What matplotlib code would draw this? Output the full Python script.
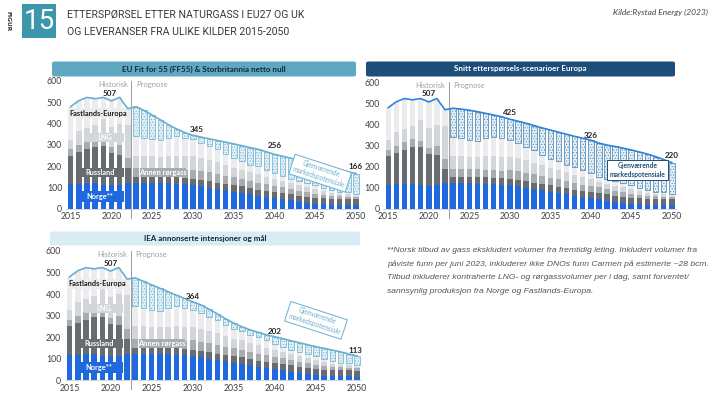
import numpy as np
import matplotlib
matplotlib.use("Agg")
import matplotlib.pyplot as plt
from matplotlib import font_manager
from matplotlib.patches import FancyBboxPatch, Rectangle

# Data, bcm per year
years_hist = list(range(2015, 2023))
years_fc = list(range(2023, 2051))

norge = [116, 117, 120, 120, 114, 111, 113, 122,
         122, 122, 121, 120, 120, 118, 116, 112, 108, 100, 93, 88, 82, 76, 70, 62,
         57, 52, 47, 40, 33, 28, 24, 22, 20, 19, 18, 17]
russland = [134, 148, 160, 172, 180, 151, 142, 68,
            30, 30, 31, 31, 30, 30, 30, 30, 30, 31, 31, 30, 30, 30, 30, 29,
            29, 29, 29, 29, 29, 29, 28, 28, 28, 28, 28, 28]
annen_rorgass = [30, 35, 38, 38, 30, 28, 45, 48,
                 38, 38, 38, 37, 37, 37, 36, 43, 42, 41, 40, 38, 36, 35, 33, 32,
                 30, 28, 26, 25, 24, 22, 20, 17, 15, 13, 12, 10]
lng = [45, 65, 60, 62, 98, 95, 100, 157,
       60, 60, 58, 58, 62, 65, 65, 62, 60, 58, 55, 50, 45, 44, 40, 40,
       36, 32, 28, 26, 25, 23, 22, 16, 14, 12, 11, 8]
fastlands = [155, 143, 145, 125, 101, 122, 123, 75,
             93, 85, 79, 76, 86, 93, 88, 80, 71, 65, 61, 50, 44, 42, 35, 37,
             33, 28, 23, 22, 22, 20, 20, 15, 13, 10, 10, 7]

demand_hist = [480, 508, 523, 517, 523, 507, 523, 470]
demand_ff55 = [480, 462, 440, 418, 395, 375, 358, 345, 337, 329, 321, 313, 305, 297,
               288, 280, 268, 256, 247, 238, 229, 220, 211, 202, 193, 184, 175, 166]
demand_snitt = [477, 473, 468, 461, 453, 445, 437, 425, 416, 406, 395, 384, 374, 364,
                354, 344, 335, 326, 312, 303, 296, 288, 280, 270, 260, 248, 234, 220]
demand_iea = [475, 459, 443, 427, 411, 395, 380, 364, 350, 330, 308, 285, 265, 248,
              234, 222, 211, 202, 193, 183, 174, 165, 156, 148, 140, 132, 122, 113]

layers = [norge, russland, annen_rorgass, lng, fastlands]
layer_colors = ["#1f68dd", "#686b70", "#a8abb0", "#d2d5d9", "#ececee"]

W, H = 713, 408
fig = plt.figure(figsize=(W / 100, H / 100), dpi=100)

installed = {f.name for f in font_manager.fontManager.ttflist}
narrow = "Liberation Sans Narrow" if "Liberation Sans Narrow" in installed else "Roboto"
plt.rcParams["font.family"] = ["Lato", "DejaVu Sans"]
plt.rcParams["hatch.linewidth"] = 0.5


def add_axes_px(left, right, bottom, top):
    return fig.add_axes([left / W, 1 - bottom / H, (right - left) / W, (bottom - top) / H])


def title_bar(x0, x1, y0, y1, text, face, color):
    box = FancyBboxPatch((x0 / W, 1 - y1 / H), (x1 - x0) / W, (y1 - y0) / H,
                         boxstyle="round,pad=0,rounding_size=0.004",
                         transform=fig.transFigure, facecolor=face, edgecolor="none")
    fig.patches.append(box)
    fig.text((x0 + x1) / 2 / W, 1 - (y0 + y1) / 2 / H, text, ha="center", va="center",
             fontsize=5.8, fontweight="bold", color=color)


def label_box(ax, x0, x1, y0, y1, text, face, color):
    ax.add_patch(Rectangle((x0, y0), x1 - x0, y1 - y0, facecolor=face, edgecolor="none", zorder=4))
    ax.text((x0 + x1) / 2, (y0 + y1) / 2, text, ha="center", va="center", fontsize=5.3,
            fontweight="bold", color=color, zorder=5)


def draw_panel(ax, demand_fc, line_color, hatch_edge, value_labels, box_pos, box_rot,
               box_color, show_labels):
    years = np.array(years_hist + years_fc)
    n_hist = len(years_hist)
    bottom = np.zeros(len(years))
    for vals, col in zip(layers, layer_colors):
        ax.bar(years, vals, 0.68, bottom=bottom, color=col, linewidth=0, zorder=2)
        bottom += np.array(vals)
    supply_fc = bottom[n_hist:]
    gap = np.array(demand_fc) - supply_fc
    ax.bar(years_fc, gap, 0.68, bottom=supply_fc, facecolor="#e4f0f6", edgecolor=hatch_edge,
           hatch="......", linewidth=0.6, zorder=2)
    ax.plot(years, demand_hist + demand_fc, color=line_color, lw=1.2, zorder=3)

    ax.axvline(2022.45, ymin=-0.07, ymax=1.0, color="#9a9a9a", lw=0.7, clip_on=False, zorder=1)
    ax.text(2022.0, 585, "Historisk", ha="right", va="center", fontsize=5.5, color="#a0a0a0")
    ax.text(2023.0, 585, "Prognose", ha="left", va="center", fontsize=5.5, color="#a0a0a0")

    for x, y, t in value_labels:
        ax.text(x, y, t, ha="center", va="center", fontsize=5.8, fontweight="bold",
                color="#222222", zorder=6)

    bx, by = box_pos
    ax.text(bx, by, "Gjenværende\nmarkedspotensiale", ha="center", va="center",
            fontsize=4.8, rotation=box_rot, rotation_mode="anchor", color=box_color,
            fontweight="bold" if box_rot == 0 else "normal", linespacing=1.3, zorder=6,
            bbox=dict(boxstyle="square,pad=0.35", facecolor="white", edgecolor=box_color, lw=0.7))

    if show_labels:
        label_box(ax, 2015.1, 2021.7, 425, 472, "Fastlands-Europa", "#ececee", "#1a1a1a")
        label_box(ax, 2016.8, 2021.5, 312, 356, "LNG", "#d2d5d9", "white")
        label_box(ax, 2015.7, 2021.5, 148, 192, "Russland", "#686b70", "white")
        label_box(ax, 2015.7, 2021.5, 34, 84, "Norge**", "#1f68dd", "white")
        label_box(ax, 2023.5, 2029.1, 151, 191, "Annen rørgass", "#a8abb0", "white")

    ax.set_xlim(2014.4, 2050.5)
    ax.set_ylim(0, 600)
    ax.set_xticks([2015, 2020, 2025, 2030, 2035, 2040, 2045, 2050])
    ax.set_yticks([0, 100, 200, 300, 400, 500, 600])
    ax.tick_params(length=0, labelsize=6.3, labelcolor="#404040", pad=2.5)
    for side in ["top", "right", "left"]:
        ax.spines[side].set_visible(False)
    ax.spines["bottom"].set_color("#d0d0d0")
    ax.spines["bottom"].set_linewidth(0.6)


# Header
fig.text(8 / W, 1 - 21 / H, "FIGUR", rotation=270, ha="center", va="center", fontsize=4.3,
         fontweight="bold", color="#333333", family="DejaVu Sans")
fig.patches.append(Rectangle((22 / W, 1 - 38 / H), 34 / W, 34 / H, transform=fig.transFigure,
                             facecolor="#3d97aa", edgecolor="none"))
fig.text(39 / W, 1 - 21.5 / H, "15", ha="center", va="center", fontsize=20, color="white",
         family=narrow)
fig.text(67 / W, 1 - 15 / H, "ETTERSPØRSEL ETTER NATURGASS I EU27 OG UK", ha="left", va="center",
         fontsize=7.6, color="#3a3a3a", family=narrow)
fig.text(67 / W, 1 - 32 / H, "OG LEVERANSER FRA ULIKE KILDER 2015-2050", ha="left", va="center",
         fontsize=7.6, color="#3a3a3a", family=narrow)
fig.text(613 / W, 1 - 12 / H, "Kilde:Rystad Energy (2023)", ha="left", va="center", fontsize=6.0,
         style="italic", color="#444444")

# Panel titles
title_bar(52, 356, 61.5, 76.5, "EU Fit for 55 (FF55) & Storbritannia netto null", "#5fa8c2", "#14243a")
title_bar(366, 675, 61.5, 76.5, "Snitt etterspørsels-scenarioer Europa", "#1d4d79", "white")
title_bar(50, 360, 231.5, 245.5, "IEA annonserte intensjoner og mål", "#d9ecf4", "#14243a")

ax1 = add_axes_px(65.8, 360.1, 209, 81)
draw_panel(ax1, demand_ff55, "#68afd0", "#7ab8d6",
           [(2019.8, 543, "507"), (2030.5, 372, "345"), (2040.0, 298, "256"), (2050.0, 201, "166")],
           (2045.6, 168), -18, "#6aaed0", True)

ax2 = add_axes_px(383.4, 675.8, 209, 82.3)
draw_panel(ax2, demand_snitt, "#2f84d8", "#5c90bb",
           [(2020.0, 545, "507"), (2030.0, 458, "425"), (2040.0, 350, "326"), (2050.0, 255, "220")],
           (2045.8, 184), 0, "#1f4e79", False)

ax3 = add_axes_px(64.6, 361.1, 380.3, 251)
draw_panel(ax3, demand_iea, "#68afd0", "#7ab8d6",
           [(2020.0, 543, "507"), (2030.0, 391, "364"), (2040.0, 226, "202"), (2049.8, 137, "113")],
           (2045.0, 278), -18, "#6aaed0", True)

# Footnote
notes = [
    "**Norsk tilbud av gass ekskludert volumer fra fremtidig leting. Inkludert volumer fra",
    "påviste funn per juni 2023, inkluderer ikke DNOs funn Carmen på estimerte ~28 bcm.",
    "Tilbud inkluderer kontraherte LNG- og rørgassvolumer per i dag, samt forventet/",
    "sannsynlig produksjon fra Norge og Fastlands-Europa.",
]
for i, line in enumerate(notes):
    fig.text(387 / W, 1 - (250 + 13.7 * i) / H, line, ha="left", va="center", fontsize=6.1,
             style="italic", color="#555555", family=["Liberation Sans", "DejaVu Sans"])

fig.savefig("out.png", dpi=100)
